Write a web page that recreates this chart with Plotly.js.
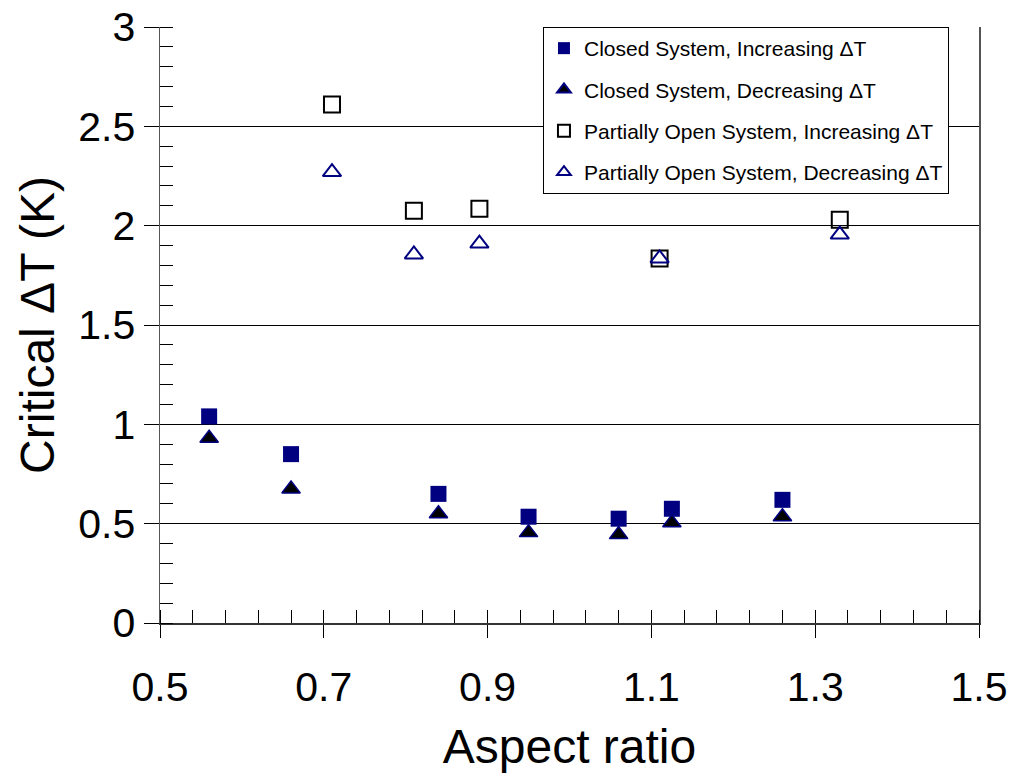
<!DOCTYPE html>
<html>
<head>
<meta charset="utf-8">
<script src="https://cdn.plot.ly/plotly-3.0.1.min.js"></script>
<style>html,body{margin:0;padding:0;background:#fff;}#chart{width:1015px;height:776px;}</style>
</head>
<body>
<div id="chart"></div>
<script>
// Closed system
var closedX = [0.56, 0.66, 0.84, 0.95, 1.06, 1.125, 1.26];
var closedInc = [1.04, 0.85, 0.65, 0.535, 0.525, 0.575, 0.62];
var closedDec = [0.93, 0.675, 0.55, 0.455, 0.445, 0.505, 0.535];
// Partially open system
var openX = [0.71, 0.81, 0.89, 1.11, 1.33];
var openInc = [2.61, 2.075, 2.085, 1.835, 2.03];
var openDec = [2.27, 1.855, 1.91, 1.835, 1.955];

var names = [
  'Closed System, Increasing \u0394T',
  'Closed System, Decreasing \u0394T',
  'Partially Open System, Increasing \u0394T',
  'Partially Open System, Decreasing \u0394T'
];
var navy = '#000080';
var FONT = 'Arial, "Liberation Sans", sans-serif';

var traces = [
  {x: closedX, y: closedInc, name: names[0], legendgroup: 'a', mode: 'markers', type: 'scatter',
   marker: {symbol: 'square', size: 16, color: navy, line: {width: 0}}},
  {x: closedX, y: closedDec, name: names[1], legendgroup: 'b', mode: 'markers', type: 'scatter',
   marker: {symbol: 'triangle-up', size: 16, color: '#000000', line: {width: 1.5, color: navy}}},
  {x: openX, y: openInc, name: names[2], legendgroup: 'c', mode: 'markers', type: 'scatter',
   marker: {symbol: 'square-open', size: 16, color: '#000000', line: {width: 2}}},
  {x: openX, y: openDec, name: names[3], legendgroup: 'd', mode: 'markers', type: 'scatter',
   marker: {symbol: 'triangle-up-open', size: 16, color: navy, line: {width: 2}}}
];

var layout = {
  width: 1015, height: 776,
  margin: {l: 160, r: 36, t: 27, b: 153},
  paper_bgcolor: '#ffffff', plot_bgcolor: '#ffffff',
  font: {family: FONT, color: '#000000'},
  showlegend: true,
  legend: {x: 0.4676, y: 1, xanchor: 'left', yanchor: 'top',
           bordercolor: '#000000', borderwidth: 1, bgcolor: '#ffffff',
           font: {family: FONT, size: 21, color: '#000000'},
           tracegroupgap: 11, itemsizing: 'constant', itemwidth: 30},
  xaxis: {
    range: [0.5, 1.5], tick0: 0.5, dtick: 0.2, tickformat: '.1f',
    ticks: 'outside', ticklen: 13, tickwidth: 1, tickcolor: '#000000',
    ticklabelstandoff: 14,
    showgrid: false, zeroline: false,
    showline: true, linecolor: '#333333', linewidth: 2, mirror: false,
    tickfont: {family: FONT, size: 41, color: '#000000'},
    minor: {dtick: 0.04, tick0: 0.5, ticks: 'inside', ticklen: 13, tickcolor: '#000000', tickwidth: 1, showgrid: false},
    title: {text: 'Aspect ratio', font: {family: FONT, size: 48, color: '#000000'}, standoff: 20}
  },
  yaxis: {
    range: [0, 3], tick0: 0, dtick: 0.5,
    ticks: 'outside', ticklen: 15, tickwidth: 1, tickcolor: '#000000',
    ticklabelstandoff: 0,
    showgrid: true, gridcolor: '#000000', gridwidth: 1, zeroline: false,
    showline: true, linecolor: '#555555', linewidth: 1.5, mirror: true,
    tickfont: {family: FONT, size: 41, color: '#000000'},
    minor: {dtick: 0.1, tick0: 0, ticks: 'inside', ticklen: 13, tickcolor: '#000000', tickwidth: 1, showgrid: false},
    title: {text: 'Critical \u0394T (K)', font: {family: FONT, size: 48, color: '#000000'}, standoff: 8}
  }
};

Plotly.newPlot('chart', traces, layout, {displayModeBar: false, staticPlot: true});
</script>
</body>
</html>
